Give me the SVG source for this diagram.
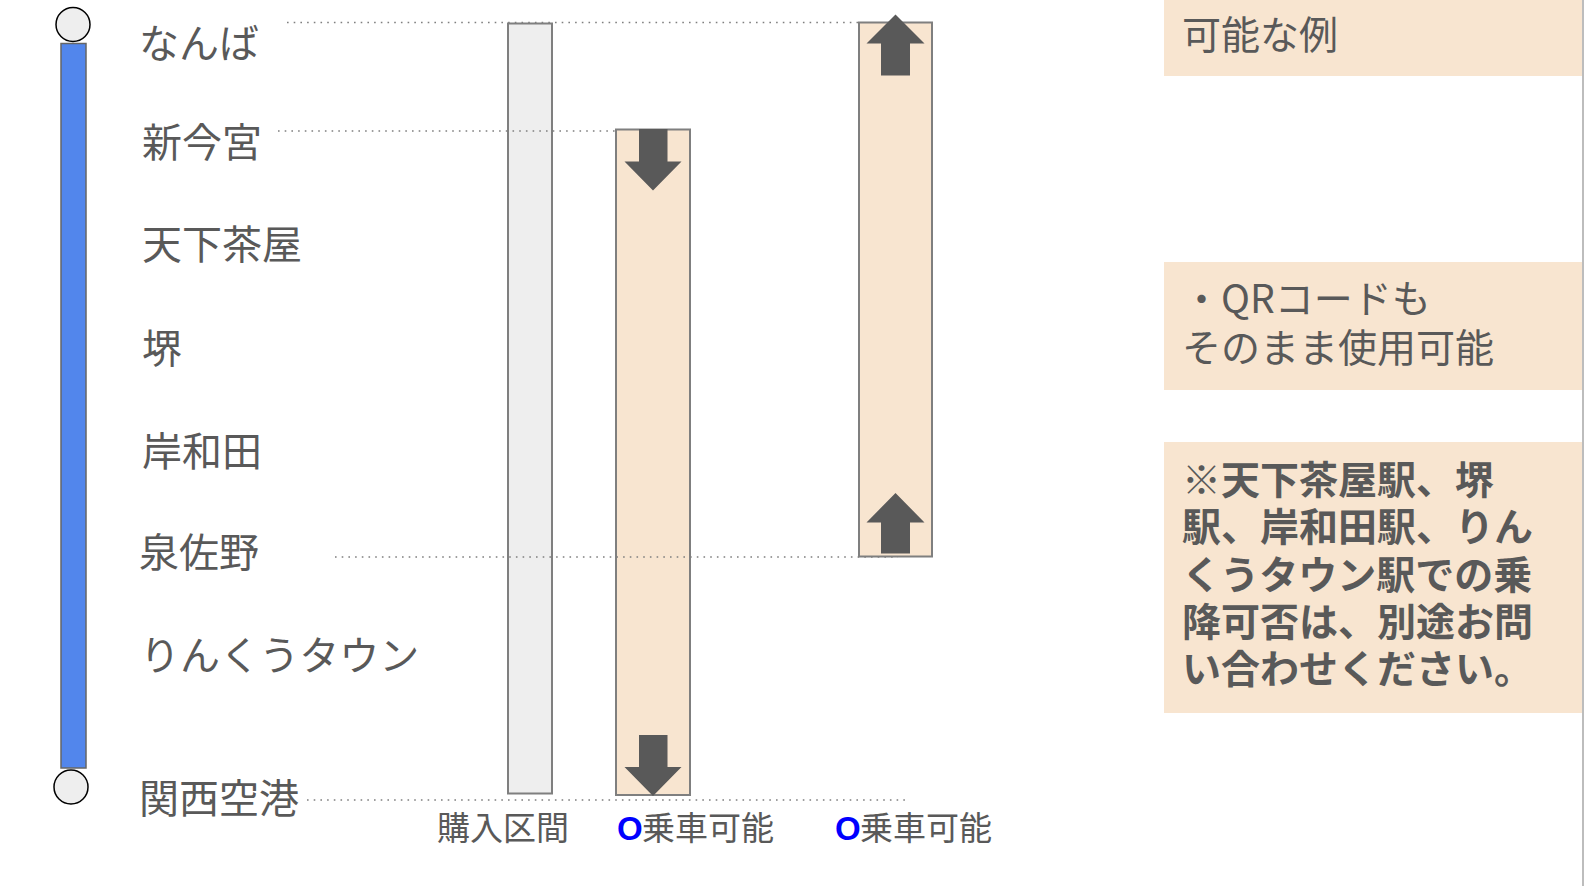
<svg xmlns="http://www.w3.org/2000/svg" width="1588" height="886" viewBox="0 0 1588 886">
<style>
.lbl{font-family:"Noto Sans CJK JP","Liberation Sans",sans-serif;font-size:40px;fill:#595959}
.pl{font-family:"Noto Sans CJK JP","Liberation Sans",sans-serif;font-size:39px;fill:#595959}
.sm{font-family:"Noto Sans CJK JP","Liberation Sans",sans-serif;font-size:33px;fill:#595959}
.bold{font-family:"Noto Sans CJK JP","Liberation Sans",sans-serif;font-size:39px;font-weight:bold;fill:#595959}
.o{font-family:"Liberation Sans",Arial,sans-serif;font-weight:bold;fill:#0000ff;font-size:33px}
.dot{stroke:#7f7f7f;stroke-width:1.6;stroke-dasharray:1.6 5.1;fill:none}
.bar{stroke:#7f7f7f;stroke-width:2}
.panel{fill:#f8e5d0}
.arr{fill:#595959}
</style>
<rect width="1588" height="886" fill="#ffffff"/>
<line x1="1583" y1="0" x2="1583" y2="886" stroke="#bdbdbd" stroke-width="2"/>
<g id="line">
<rect x="61" y="43.5" width="25" height="724.5" fill="#5286ec" stroke="#666666" stroke-width="1.5"/>
<circle cx="73" cy="24.5" r="17" fill="#eeeeee" stroke="#000000" stroke-width="1.5"/>
<circle cx="71" cy="787" r="17" fill="#eeeeee" stroke="#000000" stroke-width="1.5"/>
</g>
<g id="stations">
<text class="lbl" x="139" y="58">なんば</text>
<text class="lbl" x="142" y="157">新今宮</text>
<text class="lbl" x="142" y="259">天下茶屋</text>
<text class="lbl" x="142" y="363">堺</text>
<text class="lbl" x="142" y="466">岸和田</text>
<text class="lbl" x="139" y="567">泉佐野</text>
<text class="lbl" x="140" y="670">りんくうタウン</text>
<text class="lbl" x="139" y="813">関西空港</text>
</g>
<g id="purchase">
<rect class="bar" x="508" y="23.5" width="44" height="770" fill="#eeeeee"/>
</g>
<g id="ride1">
<rect class="bar" x="616" y="129.5" width="74" height="665.5" fill="#f8e5d0"/>
<polygon class="arr" points="639,129 667.5,129 667.5,161.5 681.5,161.5 653,190.5 624.5,161.5 639,161.5"/>
<polygon class="arr" points="639,735 667.5,735 667.5,767 681.5,767 653,796 624.5,767 639,767"/>
</g>
<g id="ride2">
<rect class="bar" x="859" y="22.5" width="73" height="534" fill="#f8e5d0"/>
<polygon class="arr" points="895.5,14.5 924.5,43.5 910,43.5 910,75.5 881,75.5 881,43.5 866.5,43.5"/>
<polygon class="arr" points="895.5,493 924.5,522.5 910,522.5 910,553.5 881,553.5 881,522.5 866.5,522.5"/>
</g>
<g id="connectors">
<line class="dot" x1="287" y1="22.5" x2="859" y2="22.5"/>
<line class="dot" x1="278" y1="131" x2="616" y2="131"/>
<line class="dot" x1="335" y1="557" x2="898" y2="557"/>
<line class="dot" x1="307" y1="800" x2="910" y2="800"/>
</g>
<g id="labels">
<text class="sm" x="437" y="840">購入区間</text>
<text x="617" y="840"><tspan class="o">O</tspan><tspan class="sm" x="642">乗車可能</tspan></text>
<text x="835" y="840"><tspan class="o">O</tspan><tspan class="sm" x="860">乗車可能</tspan></text>
</g>
<g id="panel1">
<rect class="panel" x="1164" y="0" width="418" height="76"/>
<text class="pl" x="1182" y="49">可能な例</text>
</g>
<g id="panel2">
<rect class="panel" x="1164" y="262" width="418" height="128"/>
<text class="pl" x="1182" y="313">・QRコードも</text>
<text class="pl" x="1182" y="362">そのまま使用可能</text>
</g>
<g id="panel3">
<rect class="panel" x="1164" y="442" width="418" height="271"/>
<text class="bold" x="1182" y="494">※天下茶屋駅、堺</text>
<text class="bold" x="1182" y="541">駅、岸和田駅、りん</text>
<text class="bold" x="1182" y="589">くうタウン駅での乗</text>
<text class="bold" x="1182" y="636">降可否は、別途お問</text>
<text class="bold" x="1182" y="683">い合わせください。</text>
</g>
</svg>
